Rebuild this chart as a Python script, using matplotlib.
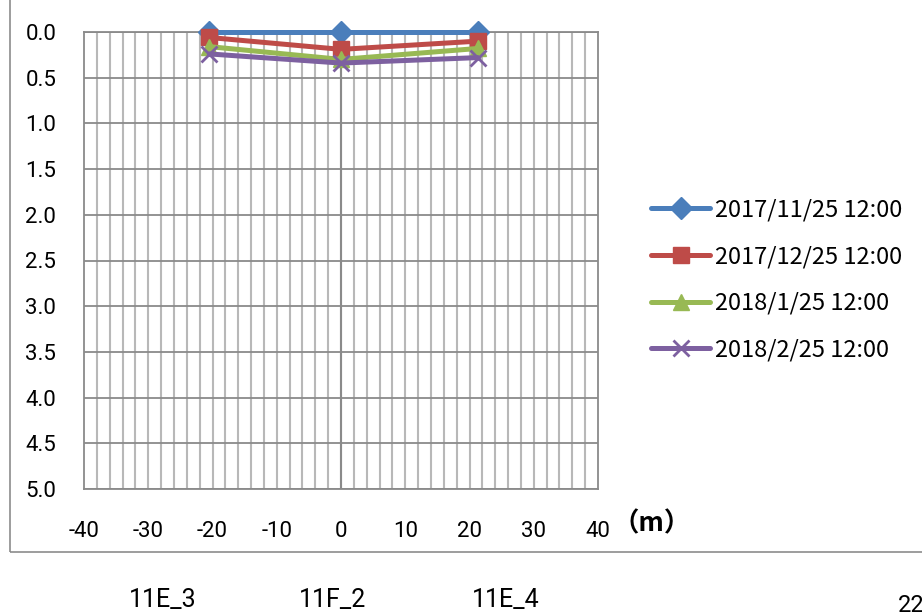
import matplotlib
matplotlib.use("Agg")
import matplotlib.pyplot as plt
from matplotlib.patches import Rectangle
from matplotlib import font_manager
import numpy as np

names = {f.name for f in font_manager.fontManager.ttflist}
narrow = "Liberation Sans Narrow" if "Liberation Sans Narrow" in names else "Roboto"
plt.rcParams['font.family'] = ['Noto Sans CJK JP', 'DejaVu Sans']

# Positions of the three observation points (m) and their depths
positions = [-20.5, 0.0, 21.3]
point_names = ["11E_3", "11F_2", "11E_4"]
series_labels = ["2017/11/25 12:00", "2017/12/25 12:00",
                 "2018/1/25 12:00", "2018/2/25 12:00"]
depth_nov = [0.0, 0.0, 0.0]
depth_dec = [0.06, 0.19, 0.10]
depth_jan = [0.16, 0.30, 0.18]
depth_feb = [0.24, 0.34, 0.28]

x_ticks = list(range(-40, 41, 10))
y_ticks = [0.0, 0.5, 1.0, 1.5, 2.0, 2.5, 3.0, 3.5, 4.0, 4.5, 5.0]

colors = ["#4A7EBB", "#BE4B48", "#98B954", "#7D60A0"]
markers = ["D", "s", "^", "x"]
msizes = [11, 12, 11, 12]

fig = plt.figure(figsize=(9.22, 6.13), dpi=100)
ax = fig.add_axes([84 / 922, 1 - 489 / 613, 514 / 922, 457 / 613])

# outer chart frame
fig.patches.append(Rectangle((10 / 922, 1 - 552 / 613), 1.0, 0.2 + 552 / 613,
                             transform=fig.transFigure, fill=False,
                             edgecolor="#8c8c8c", linewidth=1.2))

ax.set_xlim(-40, 40)
ax.set_ylim(5, 0)

# grid: minor every 2 m, major horizontal every 0.5 m
for xv in np.arange(-38, 40, 2):
    ax.axvline(xv, color="#b8b8b8", linewidth=1.5, zorder=0.5)
ax.axvline(0, color="#8a8a8a", linewidth=1.5, zorder=0.6)
for yv in y_ticks:
    ax.axhline(yv, color="#8a8a8a", linewidth=1.3, zorder=0.6)

for spine in ax.spines.values():
    spine.set_color("#8a8a8a")
    spine.set_linewidth(1.3)

series = [depth_nov, depth_dec, depth_jan, depth_feb]
for vals, lab, c, m, ms in zip(series, series_labels, colors, markers, msizes):
    kw = dict(markeredgewidth=2) if m == "x" else dict(markeredgecolor=c)
    ax.plot(positions, vals, color=c, linewidth=3.6, marker=m, markersize=ms,
            markerfacecolor=c, label=lab, clip_on=False, zorder=3,
            solid_capstyle="round", **kw)

ax.set_xticks(x_ticks)
ax.set_xticklabels([str(v) for v in x_ticks], fontfamily=[narrow, 'DejaVu Sans'])
ax.set_yticks(y_ticks)
ax.set_yticklabels([f"{v:.1f}" for v in y_ticks], fontfamily=[narrow, 'DejaVu Sans'])
ax.tick_params(axis="x", length=0, pad=23, labelsize=16)
ax.tick_params(axis="y", length=0, pad=20, labelsize=16)

fig.text(612 / 922, 1 - 524 / 613, "（m）", fontsize=19, fontweight="bold",
         va="center", ha="left")

leg = ax.legend(loc="center left", bbox_to_anchor=(630 / 922, 1 - 280 / 613),
                bbox_transform=fig.transFigure, frameon=False,
                prop={"family": ["Noto Sans CJK JP"], "size": 17},
                handlelength=2.5, labelspacing=1.0, handletextpad=0.2)

for name, px in zip(point_names, [163, 333, 506]):
    fig.text(px / 922, 1 - 600 / 613, name, fontsize=18, ha="center", va="center",
             fontfamily=[narrow, 'DejaVu Sans'])
fig.text(898 / 922, 1 - 606 / 613, "22", fontsize=17, ha="left", va="center",
         fontfamily=[narrow, 'DejaVu Sans'])

fig.savefig("out.png", dpi=100)
